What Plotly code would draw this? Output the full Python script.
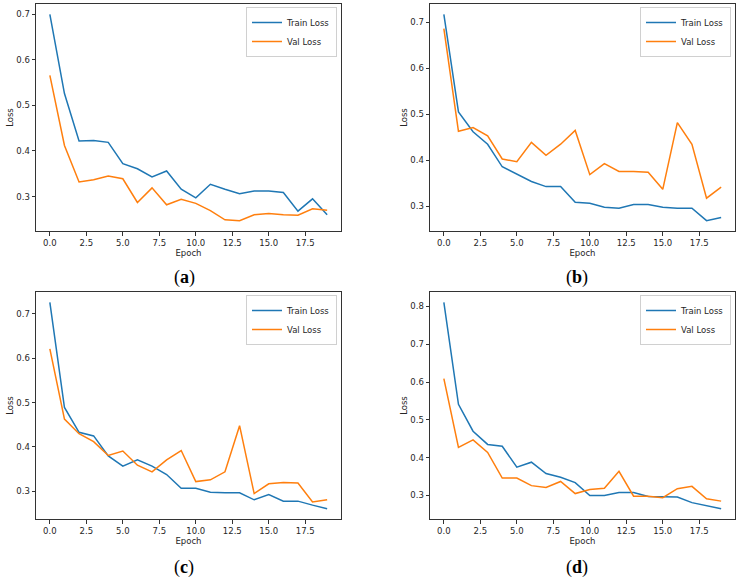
import plotly.graph_objects as go

epochs = list(range(20))

train_a = [0.700, 0.526, 0.422, 0.423, 0.419, 0.372, 0.361, 0.343, 0.356, 0.316,
           0.297, 0.327, 0.316, 0.306, 0.312, 0.312, 0.309, 0.268, 0.295, 0.260]
val_a = [0.566, 0.412, 0.332, 0.337, 0.345, 0.339, 0.287, 0.319, 0.282, 0.294,
         0.285, 0.269, 0.249, 0.247, 0.260, 0.263, 0.260, 0.259, 0.273, 0.270]

train_b = [0.717, 0.505, 0.462, 0.435, 0.386, 0.370, 0.354, 0.343, 0.343, 0.309,
           0.307, 0.298, 0.296, 0.304, 0.304, 0.298, 0.296, 0.296, 0.269, 0.276]
val_b = [0.686, 0.463, 0.471, 0.453, 0.403, 0.397, 0.439, 0.411, 0.435, 0.465,
         0.369, 0.393, 0.376, 0.376, 0.374, 0.337, 0.482, 0.435, 0.318, 0.342]

train_c = [0.726, 0.489, 0.433, 0.425, 0.380, 0.357, 0.371, 0.357, 0.338, 0.307,
           0.307, 0.298, 0.297, 0.297, 0.281, 0.293, 0.278, 0.278, 0.269, 0.261]
val_c = [0.621, 0.463, 0.430, 0.412, 0.381, 0.391, 0.359, 0.344, 0.371, 0.392,
         0.322, 0.326, 0.344, 0.448, 0.295, 0.317, 0.320, 0.319, 0.276, 0.281]

train_d = [0.811, 0.541, 0.470, 0.435, 0.430, 0.375, 0.388, 0.358, 0.348, 0.334,
           0.300, 0.300, 0.308, 0.308, 0.297, 0.297, 0.296, 0.281, 0.273, 0.265]
val_d = [0.609, 0.427, 0.447, 0.414, 0.346, 0.346, 0.326, 0.321, 0.337, 0.305,
         0.316, 0.319, 0.364, 0.298, 0.298, 0.294, 0.318, 0.324, 0.291, 0.285]

panel_labels = ["a", "b", "c", "d"]
x_ticks = [0.0, 2.5, 5.0, 7.5, 10.0, 12.5, 15.0, 17.5]
series_names = ["Train Loss", "Val Loss"]

W, H = 739, 580
BLUE = "#1f77b4"
ORANGE = "#ff7f0e"
FONT = "DejaVu Sans"
AX = "#333333"

panels = [
    (train_a, val_a, (36, 341), (4, 231), (184, 277)),
    (train_b, val_b, (430, 735), (4, 231), (577, 277)),
    (train_c, val_c, (36, 341), (292, 519), (184, 567)),
    (train_d, val_d, (430, 735), (292, 519), (577, 567)),
]

fig = go.Figure()
layout = {}
annotations = []
for i, (tr, va, (xl, xr), (yt, yb), (lx, ly)) in enumerate(panels):
    n = i + 1
    xa = "x" if n == 1 else f"x{n}"
    ya = "y" if n == 1 else f"y{n}"
    lg = "legend" if n == 1 else f"legend{n}"
    for vals, name, col in ((tr, series_names[0], BLUE), (va, series_names[1], ORANGE)):
        fig.add_trace(go.Scatter(x=epochs, y=vals, mode="lines", name=name,
                                 line=dict(color=col, width=1.5),
                                 xaxis=xa, yaxis=ya, legend=lg))
    allv = tr + va
    lo, hi = min(allv), max(allv)
    pad = 0.05 * (hi - lo)
    common = dict(showline=True, mirror=True, linecolor=AX, linewidth=1,
                  showgrid=False, zeroline=False, ticks="outside", ticklen=3.5,
                  tickwidth=0.8, tickcolor=AX,
                  tickfont=dict(family=FONT, size=8.5, color="#262626"))
    layout[f"xaxis{n}" if n > 1 else "xaxis"] = dict(
        domain=[xl / W, xr / W], anchor=ya, range=[-0.95, 19.95],
        tickvals=x_ticks, ticktext=[f"{t:.1f}" for t in x_ticks],
        title=dict(text="Epoch", font=dict(family=FONT, size=8.5, color="#262626"), standoff=3),
        **common)
    layout[f"yaxis{n}" if n > 1 else "yaxis"] = dict(
        domain=[1 - yb / H, 1 - yt / H], anchor=xa, range=[lo - pad, hi + pad],
        dtick=0.1, tickformat=".1f",
        title=dict(text="Loss", font=dict(family=FONT, size=8.5, color="#262626"), standoff=1),
        **common)
    layout[lg] = dict(x=(xr - 4) / W, y=1 - (yt + 3) / H, xanchor="right", yanchor="top",
                      bgcolor="rgba(255,255,255,0.85)", bordercolor="#d0d0d0", borderwidth=1,
                      font=dict(family=FONT, size=8.5, color="#262626"),
                      itemwidth=30, tracegroupgap=0)
    annotations.append(dict(x=lx / W, y=1 - ly / H, xref="paper", yref="paper",
                            text=f"(<b>{panel_labels[i]}</b>)", showarrow=False,
                            font=dict(family="Liberation Serif", size=18, color="black"),
                            xanchor="center", yanchor="middle"))

fig.update_layout(width=W, height=H, margin=dict(l=0, r=0, t=0, b=0),
                  paper_bgcolor="white", plot_bgcolor="white",
                  annotations=annotations, showlegend=True, **layout)
fig.write_html("out.html")
